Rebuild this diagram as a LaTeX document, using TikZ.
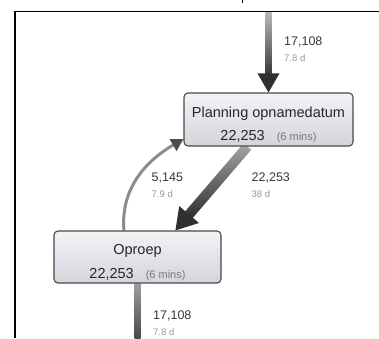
\documentclass[tikz,border=0pt]{standalone}
\usepackage{fontspec}
\setmainfont{Liberation Sans}
\usetikzlibrary{calc}
\usetikzlibrary{arrows.meta}
\usetikzlibrary{positioning}
\usetikzlibrary{backgrounds}

\definecolor{boxtop}{RGB}{244,242,247}
\definecolor{boxbot}{RGB}{214,211,219}
\definecolor{boxline}{RGB}{72,72,72}
\definecolor{cntgray}{RGB}{55,55,55}
\definecolor{durgray}{RGB}{150,150,150}
\definecolor{minsgray}{RGB}{120,120,120}
\definecolor{headgray}{RGB}{48,48,48}

\tikzset{
 actbox/.style={draw=boxline, line width=1.1pt, rounded corners=4pt, top color=boxtop, bottom color=boxbot,
   align=center, inner sep=2pt, font=\fontsize{14.5}{23.5}\selectfont, text=black!85},
 cnt/.style={font=\fontsize{12.5}{14}\selectfont, text=cntgray, inner sep=0pt, anchor=west},
 dur/.style={font=\fontsize{9.5}{11}\selectfont, text=durgray, inner sep=0pt},
}

\begin{document}
\begin{tikzpicture}[x=1pt,y=1pt]
\useasboundingbox (0,0) rectangle (379,-338);
\draw[line width=1.6pt] (15,-338) -- (15,-11.5) -- (379,-11.5);
\draw[line width=1.4pt] (242.5,0) -- (242.5,-3);

\node[actbox, minimum width=169pt, minimum height=53pt] (plan) at (268.5,-119.5)
  {\rule{0pt}{21pt}Planning opnamedatum\\22,253\hspace{12pt}{\fontsize{11}{13}\selectfont\color{minsgray}(6 mins)}};
\node[actbox, minimum width=167pt, minimum height=52pt] (oproep) at (137.5,-257)
  {\rule{0pt}{21pt}Oproep\\22,253\hspace{12pt}{\fontsize{11}{13}\selectfont\color{minsgray}(6 mins)}};

\coordinate (intop) at (268.5,-12.5);
\coordinate (outbot) at (137.5,-338);

\begin{scope}[on background layer]
% shaft shaded from light to dark, then the head
\foreach \a/\b/\w/\hl/\hw/\lt/\dk in {intop/plan.north/3/19/11/black!28/black!78,
    plan.232/oproep.35/5/21/13/black!35/black!82,
    oproep.south/outbot/3/0/0/black!38/black!72} {
 \coordinate (hb) at ($(\b)!\hl pt-1pt!(\a)$);
 \shade[top color=\lt, bottom color=\dk] ($(\a)!\w pt!90:(hb)$) -- ($(hb)!\w pt!-90:(\a)$)
    -- ($(hb)!\w pt!90:(\a)$) -- ($(\a)!\w pt!-90:(hb)$) -- cycle;
 \fill[headgray] (\b) -- ($(\b)!\hl pt!(\a)!\hw pt!90:(\a)$) -- ($(\b)!\hl pt!(\a)!\hw pt!-90:(\a)$) -- cycle;
}
\draw[line width=3pt, black!45, -{Triangle[length=12pt,width=13pt,color=black!70]}]
  (oproep.117) to[out=95,in=210] (plan.193);
\end{scope}

\node[cnt] (topcnt) at (284,-42) {17,108};
\node[dur, below=7pt of topcnt.south west, anchor=north west] (topdur) {7.8 d};
\node[cnt] (diagcnt) at (251.5,-178) {22,253};
\node[dur, below=7pt of diagcnt.south west, anchor=north west] (diagdur) {38 d};
\node[cnt] (loopcnt) at (151.5,-178) {5,145};
\node[dur, below=7pt of loopcnt.south west, anchor=north west] (loopdur) {7.9 d};
\node[cnt] (botcnt) at (153,-316) {17,108};
\node[dur, below=7pt of botcnt.south west, anchor=north west] (botdur) {7.8 d};
\end{tikzpicture}
\end{document}
